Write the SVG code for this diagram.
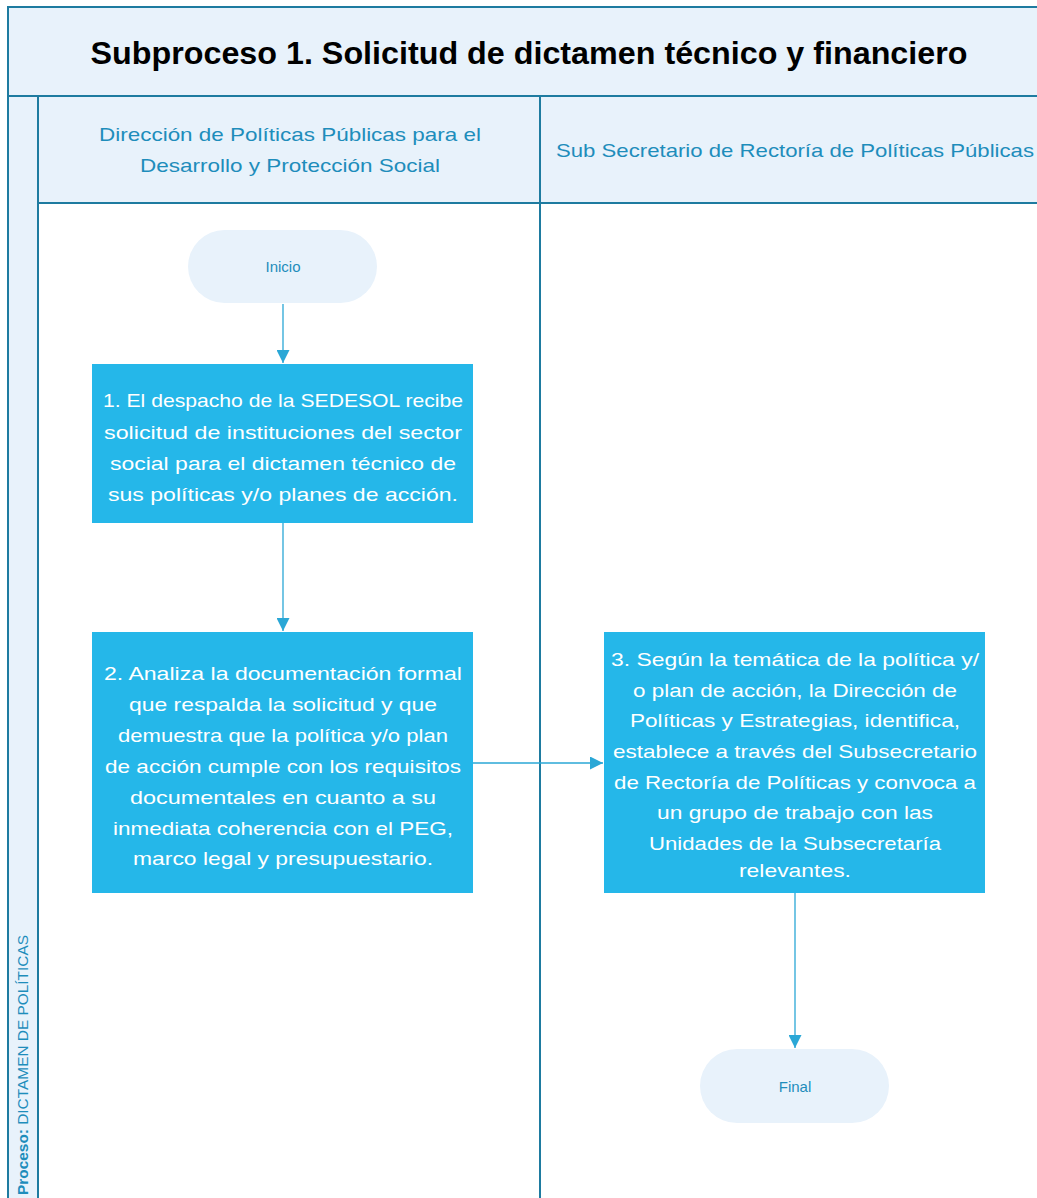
<svg xmlns="http://www.w3.org/2000/svg" width="1037" height="1198" viewBox="0 0 1037 1198">
<style>
.frame{fill:#E8F2FB;stroke:#1E7BA0;stroke-width:2}
.line{stroke:#1E7BA0;stroke-width:2;fill:none}
.hdr{font-family:"Liberation Sans",Arial,sans-serif;font-size:19px;fill:#1E8DBB;text-anchor:middle}
.box{fill:#25B7E9}
.bt{font-family:"Liberation Sans",Arial,sans-serif;font-size:19px;fill:#FFFFFF;text-anchor:middle}
.term{fill:#E8F2FB}
.tt{font-family:"Liberation Sans",Arial,sans-serif;font-size:15px;fill:#1E8DBB;text-anchor:middle}
.conn{stroke:#2AA7D6;stroke-width:1.3;fill:none}
</style>
<defs>
<marker id="ah" viewBox="0 0 10 10" refX="10" refY="5" markerWidth="13" markerHeight="13" markerUnits="userSpaceOnUse" orient="auto">
<path d="M0,0 L10,5 L0,10 Z" fill="#2AA7D6"/>
</marker>
</defs>
<rect width="1037" height="1198" fill="#FFFFFF"/>
<g id="pool">
<rect class="frame" x="8" y="7" width="1040" height="1200"/>
<rect x="39" y="204" width="1000" height="1000" fill="#FFFFFF"/>
<line class="line" x1="8" y1="96" x2="1037" y2="96"/>
<line class="line" x1="38" y1="96" x2="38" y2="1198"/>
<line class="line" x1="38" y1="203" x2="1037" y2="203"/>
<line class="line" x1="540" y1="96" x2="540" y2="1198"/>
<text x="529" y="64" font-family="'Liberation Sans',Arial,sans-serif" font-size="31" font-weight="bold" fill="#000000" text-anchor="middle" textLength="877" lengthAdjust="spacingAndGlyphs">Subproceso 1. Solicitud de dictamen técnico y financiero</text>
<text class="hdr" x="290" y="141" textLength="382" lengthAdjust="spacingAndGlyphs">Dirección de Políticas Públicas para el</text>
<text class="hdr" x="290" y="172" textLength="300" lengthAdjust="spacingAndGlyphs">Desarrollo y Protección Social</text>
<text class="hdr" x="795" y="157" textLength="478" lengthAdjust="spacingAndGlyphs">Sub Secretario de Rectoría de Políticas Públicas</text>
<text transform="translate(28,1195) rotate(-90)" font-family="'Liberation Sans',Arial,sans-serif" font-size="14" fill="#1E8DBB" textLength="260" lengthAdjust="spacingAndGlyphs"><tspan font-weight="bold">Proceso:</tspan> DICTAMEN DE POLÍTICAS</text>
</g>
<g id="connectors">
<line class="conn" x1="283" y1="304" x2="283" y2="363" marker-end="url(#ah)"/>
<line class="conn" x1="283" y1="523" x2="283" y2="631" marker-end="url(#ah)"/>
<line class="conn" x1="473" y1="763" x2="603" y2="763" marker-end="url(#ah)"/>
<line class="conn" x1="795" y1="893" x2="795" y2="1048" marker-end="url(#ah)"/>
</g>
<g id="inicio">
<rect class="term" x="188" y="230" width="189" height="73" rx="36.5"/>
<text class="tt" x="283" y="272">Inicio</text>
</g>
<g id="step1">
<rect class="box" x="92" y="364" width="381" height="159"/>
<text class="bt" x="283" y="407" textLength="360" lengthAdjust="spacingAndGlyphs">1. El despacho de la SEDESOL recibe</text>
<text class="bt" x="283" y="439" textLength="358" lengthAdjust="spacingAndGlyphs">solicitud de instituciones del sector</text>
<text class="bt" x="283" y="470" textLength="346" lengthAdjust="spacingAndGlyphs">social para el dictamen técnico de</text>
<text class="bt" x="283" y="501" textLength="350" lengthAdjust="spacingAndGlyphs">sus políticas y/o planes de acción.</text>
</g>
<g id="step2">
<rect class="box" x="92" y="632" width="381" height="261"/>
<text class="bt" x="283" y="680" textLength="358" lengthAdjust="spacingAndGlyphs">2. Analiza la documentación formal</text>
<text class="bt" x="283" y="711" textLength="308" lengthAdjust="spacingAndGlyphs">que respalda la solicitud y que</text>
<text class="bt" x="283" y="742" textLength="330" lengthAdjust="spacingAndGlyphs">demuestra que la política y/o plan</text>
<text class="bt" x="283" y="773" textLength="356" lengthAdjust="spacingAndGlyphs">de acción cumple con los requisitos</text>
<text class="bt" x="283" y="804" textLength="306" lengthAdjust="spacingAndGlyphs">documentales en cuanto a su</text>
<text class="bt" x="283" y="835" textLength="340" lengthAdjust="spacingAndGlyphs">inmediata coherencia con el PEG,</text>
<text class="bt" x="283" y="865" textLength="300" lengthAdjust="spacingAndGlyphs">marco legal y presupuestario.</text>
</g>
<g id="step3">
<rect class="box" x="604" y="632" width="381" height="261"/>
<text class="bt" x="795" y="666" textLength="368" lengthAdjust="spacingAndGlyphs">3. Según la temática de la política y/</text>
<text class="bt" x="795" y="697" textLength="324" lengthAdjust="spacingAndGlyphs">o plan de acción, la Dirección de</text>
<text class="bt" x="795" y="727" textLength="330" lengthAdjust="spacingAndGlyphs">Políticas y Estrategias, identifica,</text>
<text class="bt" x="795" y="758" textLength="364" lengthAdjust="spacingAndGlyphs">establece a través del Subsecretario</text>
<text class="bt" x="795" y="789" textLength="362" lengthAdjust="spacingAndGlyphs">de Rectoría de Políticas y convoca a</text>
<text class="bt" x="795" y="819" textLength="276" lengthAdjust="spacingAndGlyphs">un grupo de trabajo con las</text>
<text class="bt" x="795" y="850" textLength="292" lengthAdjust="spacingAndGlyphs">Unidades de la Subsecretaría</text>
<text class="bt" x="795" y="877" textLength="112" lengthAdjust="spacingAndGlyphs">relevantes.</text>
</g>
<g id="final">
<rect class="term" x="700" y="1049" width="189" height="74" rx="37"/>
<text class="tt" x="795" y="1092">Final</text>
</g>
</svg>
